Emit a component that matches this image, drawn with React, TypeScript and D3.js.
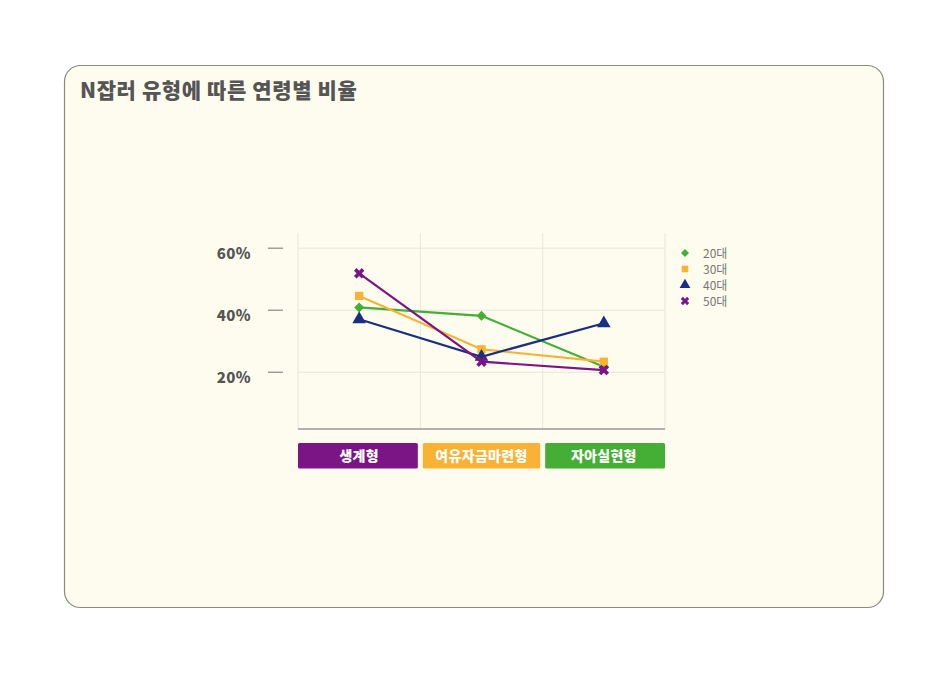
import React, { useEffect, useRef } from 'react';
import * as d3 from 'd3';

const categories = ['생계형', '여유자금마련형', '자아실현형'];
const categoryColors = ['#7b1585', '#f9b233', '#45ae35'];
const seriesNames = ['20대', '30대', '40대', '50대'];
const seriesColors = ['#45ae35', '#f9b233', '#1a2f80', '#7b1585'];
const seriesSymbols = [d3.symbolSquare, d3.symbolSquare, d3.symbolTriangle, d3.symbolCross];
const seriesRotate = [45, 0, 0, 45];
const values20 = [40.9, 38.2, 21.8];
const values30 = [44.6, 27.4, 23.4];
const values40 = [37.1, 25.0, 35.8];
const values50 = [51.9, 23.4, 20.7];
const yTicks = [20, 40, 60];

const App: React.FC = () => {
  const svgRef = useRef<SVGSVGElement>(null);

  useEffect(() => {
    if (!svgRef.current) return;
    d3.select(svgRef.current).selectAll('*').remove();
    const svg = d3.select(svgRef.current);
    const series = [values20, values30, values40, values50];

    // card
    svg.append('rect')
      .attr('x', 56.5).attr('y', 57.5)
      .attr('width', 819).attr('height', 542)
      .attr('rx', 16)
      .attr('fill', '#fdfcee')
      .attr('stroke', '#8a8a82')
      .attr('stroke-width', 1.2);

    svg.append('text')
      .attr('x', 72).attr('y', 90)
      .attr('font-family', '"Noto Sans CJK KR", sans-serif')
      .attr('font-weight', 900)
      .attr('font-size', 21)
      .attr('letter-spacing', 0.6)
      .attr('fill', '#555')
      .text('N잡러 유형에 따른 연령별 비율');

    const left = 290, right = 657, top = 225, bottom = 421;
    const x = d3.scaleBand<string>().domain(categories).range([left, right]);
    const y = d3.scaleLinear().domain([1.7, 64.9]).range([bottom, top]);

    const g = svg.append('g');

    // grid
    yTicks.forEach(t => {
      g.append('line')
        .attr('x1', left).attr('x2', right)
        .attr('y1', y(t)).attr('y2', y(t))
        .attr('stroke', '#e6e6dc').attr('stroke-width', 1);
      g.append('line')
        .attr('x1', 260).attr('x2', 275)
        .attr('y1', y(t)).attr('y2', y(t))
        .attr('stroke', '#888').attr('stroke-width', 1.2);
      g.append('text')
        .attr('x', 243).attr('y', y(t) + 11)
        .attr('text-anchor', 'end')
        .attr('font-family', '"Noto Sans CJK KR", sans-serif')
        .attr('font-weight', 900)
        .attr('font-size', 15)
        .attr('letter-spacing', 0.4)
        .attr('fill', '#555')
        .text(`${t}%`);
    });
    const bounds = [left, ...categories.slice(1).map(c => x(c) as number), right];
    bounds.forEach(b => {
      g.append('line')
        .attr('x1', b).attr('x2', b)
        .attr('y1', top).attr('y2', bottom)
        .attr('stroke', '#e6e6dc').attr('stroke-width', 1);
    });
    g.append('line')
      .attr('x1', left).attr('x2', right)
      .attr('y1', bottom).attr('y2', bottom)
      .attr('stroke', '#999').attr('stroke-width', 1.5);

    // category boxes
    categories.forEach((c, i) => {
      const bx = x(c) as number;
      const bw = x.bandwidth();
      const gap = i === 0 ? 0 : 2.5;
      const gapR = i === categories.length - 1 ? 0 : 2.5;
      g.append('rect')
        .attr('x', bx + gap).attr('y', 435)
        .attr('width', bw - gap - gapR).attr('height', 25.5)
        .attr('rx', 1.5)
        .attr('fill', categoryColors[i]);
      g.append('text')
        .attr('x', bx + bw / 2).attr('y', 453)
        .attr('text-anchor', 'middle')
        .attr('font-family', '"Noto Sans CJK KR", sans-serif')
        .attr('font-weight', 900)
        .attr('font-size', 14)
        .attr('letter-spacing', 0.3)
        .attr('fill', '#fff')
        .text(c);
    });

    // lines
    const line = d3.line<number>()
      .x((_, i) => (x(categories[i]) as number) + x.bandwidth() / 2)
      .y(d => y(d));
    series.forEach((s, si) => {
      g.append('path')
        .attr('d', line(s) as string)
        .attr('fill', 'none')
        .attr('stroke', seriesColors[si])
        .attr('stroke-width', 2.2);
    });
    series.forEach((s, si) => {
      const sym = d3.symbol().type(seriesSymbols[si]).size(si === 2 ? 80 : si === 0 ? 50 : 68);
      s.forEach((v, i) => {
        g.append('path')
          .attr('d', sym() as string)
          .attr('transform', `translate(${(x(categories[i]) as number) + x.bandwidth() / 2},${y(v)}) rotate(${seriesRotate[si]})`)
          .attr('fill', seriesColors[si]);
      });
    });

    // legend
    seriesNames.forEach((n, i) => {
      const ly = 245 + i * 16;
      const sym = d3.symbol().type(seriesSymbols[i]).size(i === 2 ? 50 : i === 0 ? 32 : 44);
      g.append('path')
        .attr('d', sym() as string)
        .attr('transform', `translate(677,${ly}) rotate(${seriesRotate[i]})`)
        .attr('fill', seriesColors[i]);
      g.append('text')
        .attr('x', 695).attr('y', ly + 4.5)
        .attr('font-family', '"Noto Sans CJK KR", sans-serif')
        .attr('font-weight', 400)
        .attr('font-size', 12)
        .attr('fill', '#777')
        .text(n);
    });
  }, []);

  return <svg ref={svgRef} width={932} height={640} style={{ display: 'block' }} />;
};

export default App;
